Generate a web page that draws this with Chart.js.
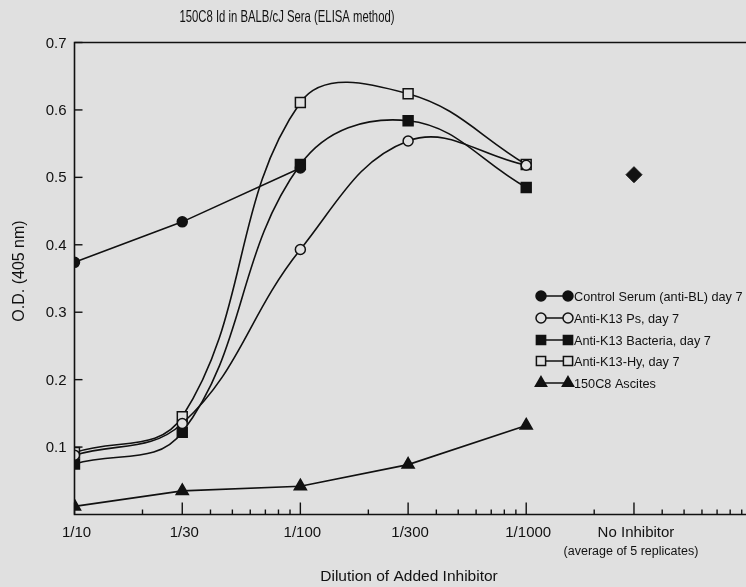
<!DOCTYPE html>
<html>
<head>
<meta charset="utf-8">
<title>150C8 Id in BALB/cJ Sera</title>
<script src="https://cdn.jsdelivr.net/npm/chart.js"></script>
<style>
  body { margin: 0; background: #e0e0e0; overflow: hidden; }
  #chart { display: block; }
</style>
</head>
<body>
<canvas id="chart" width="746" height="587"></canvas>
<script>
// dilution factors (1/10 ... 1/1000); "No Inhibitor" sits one step further out
const dilutions = [10, 30, 100, 300, 1000];
const noInhibitorX = 3000;

const controlSerum = [0.374, 0.434, 0.514];
const antiK13Ps = [0.088, 0.135, 0.393, 0.554, 0.518];
const antiK13Bacteria = [0.075, 0.122, 0.519, 0.584, 0.485];
const antiK13Hy = [0.092, 0.145, 0.611, 0.624, 0.519];
const ascites150C8 = [0.012, 0.035, 0.042, 0.074, 0.132];
const noInhibitor = [0.504];

const seriesLabels = [
  "Control Serum (anti-BL) day 7",
  "Anti-K13 Ps, day 7",
  "Anti-K13 Bacteria, day 7",
  "Anti-K13-Hy, day 7",
  "150C8 Ascites"
];

const yTicks = [0.1, 0.2, 0.3, 0.4, 0.5, 0.6, 0.7];
const xTickValues = [10, 30, 100, 300, 1000, 3000];
const xTickLabels = ["1/10", "1/30", "1/100", "1/300", "1/1000", "No Inhibitor"];

const BG = "#e0e0e0";
const INK = "#111";
const FONT = "'Liberation Sans', Arial, Helvetica, sans-serif";

function pts(ys) {
  return ys.map((y, i) => ({ x: dilutions[i], y: y }));
}

function series(label, ys, style, radius, fill, tension) {
  return {
    label: label,
    data: pts(ys),
    pointStyle: style,
    pointRadius: radius,
    pointHoverRadius: radius,
    pointBackgroundColor: fill,
    pointBorderColor: INK,
    pointBorderWidth: 1.5,
    borderColor: INK,
    borderWidth: 1.6,
    fill: false,
    tension: tension
  };
}

const datasets = [
  series(seriesLabels[0], controlSerum, "circle", 5, INK, 0),
  series(seriesLabels[1], antiK13Ps, "circle", 5, BG, 0.4),
  series(seriesLabels[2], antiK13Bacteria, "rect", 7, INK, 0.4),
  series(seriesLabels[3], antiK13Hy, "rect", 7, BG, 0.4),
  series(seriesLabels[4], ascites150C8, "triangle", 7, INK, 0),
  {
    label: "No Inhibitor",
    data: [{ x: noInhibitorX, y: noInhibitor[0] }],
    pointStyle: "rectRot",
    pointRadius: 8,
    pointBackgroundColor: INK,
    pointBorderColor: INK,
    pointBorderWidth: 1,
    showLine: false
  }
];

// axes, ticks, labels and the key are painted by hand on top of the plot
const figurePlugin = {
  id: "figure",
  afterDraw(chart) {
    const ctx = chart.ctx;
    const xs = chart.scales.x;
    const ys = chart.scales.y;
    const a = chart.chartArea;
    const left = a.left, right = a.right, top = a.top, bottom = a.bottom;

    ctx.save();
    ctx.strokeStyle = INK;
    ctx.fillStyle = INK;
    ctx.lineWidth = 1.6;

    // frame: left axis, bottom axis, top rule
    ctx.beginPath();
    ctx.moveTo(right, top);
    ctx.lineTo(left, top);
    ctx.lineTo(left, bottom);
    ctx.lineTo(right, bottom);
    ctx.stroke();

    // y ticks point inward
    ctx.lineWidth = 1.4;
    ctx.font = "15px " + FONT;
    ctx.textAlign = "right";
    ctx.textBaseline = "middle";
    yTicks.forEach(v => {
      const y = ys.getPixelForValue(v);
      ctx.beginPath();
      ctx.moveTo(left, y);
      ctx.lineTo(left + 8, y);
      ctx.stroke();
      ctx.fillText(v.toFixed(1), left - 8, y + 1);
    });

    // x ticks: log minors 2..9 per decade, majors at the labelled dilutions
    for (let d = 10; d < 10000; d *= 10) {
      for (let m = 2; m <= 9; m++) {
        const v = d * m;
        if (v > xs.max || xTickValues.includes(v)) continue;
        const x = xs.getPixelForValue(v);
        ctx.beginPath();
        ctx.moveTo(x, bottom);
        ctx.lineTo(x, bottom - 5);
        ctx.stroke();
      }
    }
    ctx.textAlign = "center";
    xTickValues.forEach((v, i) => {
      const x = xs.getPixelForValue(v);
      ctx.beginPath();
      ctx.moveTo(x, bottom);
      ctx.lineTo(x, bottom - 12);
      ctx.stroke();
      ctx.fillText(xTickLabels[i], x + 2, bottom + 18);
    });
    ctx.font = "12.5px " + FONT;
    ctx.fillText("(average of 5 replicates)", xs.getPixelForValue(noInhibitorX) - 3, bottom + 37);

    // titles
    ctx.font = "16.5px " + FONT;
    ctx.fillText("150C8 Id in BALB/cJ Sera (ELISA method)", 287, 17, 215);
    ctx.font = "15.5px " + FONT;
    ctx.fillText("Dilution of Added Inhibitor", 409, 577);
    ctx.save();
    ctx.translate(20, 271);
    ctx.rotate(-Math.PI / 2);
    ctx.font = "16px " + FONT;
    ctx.fillText("O.D. (405 nm)", 0, 0);
    ctx.restore();

    // key: marker, line, marker, then the series name
    const rows = [296, 318, 340, 361, 383];
    ctx.font = "12.7px " + FONT;
    ctx.textAlign = "left";
    for (let i = 0; i < 5; i++) {
      const ds = chart.data.datasets[i];
      const y = rows[i];
      ctx.lineWidth = 1.5;
      ctx.beginPath();
      ctx.moveTo(541, y);
      ctx.lineTo(568, y);
      ctx.stroke();
      [541, 568].forEach(x => {
        ctx.fillStyle = ds.pointBackgroundColor;
        ctx.strokeStyle = INK;
        Chart.helpers.drawPoint(ctx, {
          pointStyle: ds.pointStyle,
          radius: ds.pointStyle === "circle" ? 5 : 6.5,
          borderWidth: 1.4,
          rotation: 0
        }, x, y);
      });
      ctx.fillStyle = INK;
      ctx.fillText(ds.label, 574, y + 1);
    }
    ctx.restore();
  }
};

new Chart(document.getElementById("chart"), {
  type: "line",
  data: { datasets: datasets },
  options: {
    responsive: false,
    animation: false,
    layout: { autoPadding: false, padding: { left: 74.5, top: 42.5, right: 0, bottom: 72.5 } },
    plugins: {
      legend: { display: false },
      tooltip: { enabled: false }
    },
    scales: {
      x: { type: "logarithmic", min: 10, max: 9400, display: false },
      y: { type: "linear", min: 0, max: 0.7, display: false }
    }
  },
  plugins: [figurePlugin]
});
</script>
</body>
</html>
